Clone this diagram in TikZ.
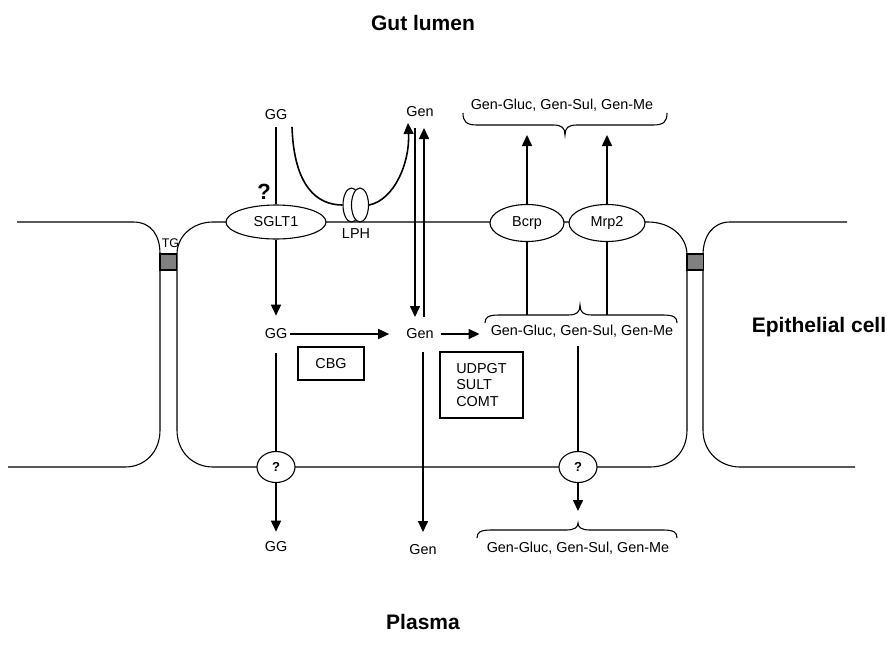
\documentclass[tikz,border=0pt]{standalone}
\usepackage{fontspec}
\setmainfont{Liberation Sans}
\usetikzlibrary{arrows.meta,shapes.geometric}

\begin{document}
\begin{tikzpicture}[x=1pt,y=-1pt,font=\fontsize{14.4}{16.5}\selectfont,
    memb/.style={line width=1.1pt},
    link/.style={line width=1.6pt},
    arr/.style={link,-{Triangle[length=11pt,width=10pt]}},
    pump/.style={draw,ellipse,memb,fill=white,inner sep=0pt},
    qmark/.style={pump,minimum width=38pt,minimum height=31pt,font=\bfseries\fontsize{13}{15}\selectfont},
    enzbox/.style={draw,memb,inner sep=0pt},
    lbl/.style={inner sep=0pt},
    heading/.style={font=\bfseries\fontsize{21}{24}\selectfont}]%
  \useasboundingbox (0,0) rectangle (891,656);%
  % cells
  \draw[memb] (17,222) -- (133,222) .. controls (152,222) and (160,236) .. (160,254) -- (160,430) .. controls (160,452) and (145,467) .. (125,467) -- (8,467);%
  \draw[memb] (648,222) -- (213,222) .. controls (193,222) and (177,236) .. (177,254) -- (177,430) .. controls (177,452) and (193,467) .. (213,467) -- (650,467) .. controls (672,467) and (687,452) .. (687,430) -- (687,255) .. controls (687,236) and (670,222) .. (648,222);%
  \draw[memb] (847,222) -- (730,222) .. controls (713,222) and (703,236) .. (703,255) -- (703,430) .. controls (703,452) and (720,467) .. (740,467) -- (855,467);%
  \foreach \x in {160,687}{%
    \draw[memb,fill=black!50] (\x,254) rectangle ++(16.5,16);
  }
  \node[lbl,font=\fontsize{12.5}{14}\selectfont] (tg) at (170.5,243) {TG};%
  % transporters
  \node[pump,minimum width=100pt,minimum height=34pt] (sglt) at (276,222) {SGLT1};%
  \node[pump,minimum width=74pt,minimum height=37pt] (bcrp) at (527,223) {Bcrp};%
  \node[pump,minimum width=76pt,minimum height=37pt] (mrp) at (607,223) {Mrp2};%
  \node[pump,minimum width=17pt,minimum height=34pt] (lph1) at (351.5,205) {};%
  \node[pump,minimum width=17pt,minimum height=34pt] (lph2) at (360,205) {};%
  \node[lbl] (lphlbl) at (356,234) {LPH};%
  \node[qmark] (q1) at (276,467) {?};%
  \node[qmark] (q2) at (578,467) {?};%
  \node[lbl,font=\bfseries\fontsize{22}{24}\selectfont] (sgltq) at (264,192) {?};%
  % metabolites
  \node[lbl] (ggtop) at (276,115) {GG};%
  \node[lbl] (gentop) at (420,112) {Gen};%
  \node[lbl] (conjtop) at (562,105) {Gen-Gluc, Gen-Sul, Gen-Me};%
  \node[lbl] (ggmid) at (276,334) {GG};%
  \node[lbl] (genmid) at (420,334) {Gen};%
  \node[lbl] (conjmid) at (582,331) {Gen-Gluc, Gen-Sul, Gen-Me};%
  \node[lbl] (ggbot) at (276,547) {GG};%
  \node[lbl] (genbot) at (423,550) {Gen};%
  \node[lbl] (conjbot) at (578,548) {Gen-Gluc, Gen-Sul, Gen-Me};%
  \node[enzbox,minimum width=66pt,minimum height=33pt] (cbg) at (331,363.5) {CBG};%
  \node[enzbox,minimum width=83pt,minimum height=66pt,align=left] (udpgt) at (481.5,385) {UDPGT\\SULT\\COMT};%
  \node[heading] (lumen) at (423,23) {Gut lumen};%
  \node[heading] (plasma) at (423,622) {Plasma};%
  \node[heading] (cell) at (819,327) {Epithelial cell};%
  % braces
  \coordinate (toptip) at (565,135);%
  \coordinate (midflat) at (580,315);%
  \coordinate (bottip) at (578,523);%
  \foreach \l/\m/\r/\e/\a/\b/\s in {463/565/667/113/12/22/1,485/580/677/323/8/18/-1,477/578/677/538/8/15/-1}{%
    \draw[memb] (\l,\e) .. controls (\l,{\e+\s*\a*0.7}) and ({\l+3},{\e+\s*\a}) .. ({\l+14},{\e+\s*\a}) -- ({\m-12},{\e+\s*\a}) .. controls ({\m-3},{\e+\s*\a}) and (\m,{\e+\s*\a+\s*3}) .. (\m,{\e+\s*\b}) .. controls (\m,{\e+\s*\a+\s*3}) and ({\m+3},{\e+\s*\a}) .. ({\m+12},{\e+\s*\a}) -- ({\r-14},{\e+\s*\a}) .. controls ({\r-3},{\e+\s*\a}) and (\r,{\e+\s*\a*0.7}) .. (\r,\e);
  }
  % transport
  \draw[link,shorten <=7pt] (ggtop) -- (sglt);%
  \draw[arr,shorten >=13pt] (sglt) -- (ggmid);%
  \draw[link,shorten <=14pt] (ggmid) -- (q1);%
  \draw[arr,shorten >=10pt] (q1) -- (ggbot);%
  \draw[arr,shorten <=3pt,shorten >=17pt] (ggmid) -- (genmid);%
  \draw[arr,shorten <=7pt,shorten >=11pt] (genmid.east) -- (genmid.east -| conjmid.west);%
  \draw[link] ([xshift=16pt,yshift=-12pt]ggtop.center) .. controls +(2,60) and +(-25,0) .. (lph1.west);%
  \draw[arr] (lph2.east) .. controls +(25,-5) and +(2,40) .. ([xshift=-12pt,yshift=-11pt]gentop.center);%
  \draw[arr] ([xshift=-5pt,yshift=-16pt]gentop.center) -- ([xshift=-5pt,yshift=17pt]genmid.center);%
  \draw[arr] ([xshift=4pt,yshift=17pt]genmid.center) -- ([xshift=4pt,yshift=-16pt]gentop.center);%
  \draw[arr] ([xshift=3pt,yshift=-18pt]genmid.center) -- ([yshift=18pt]genbot.center);%
  \foreach \p in {bcrp,mrp}{%
    \draw[arr] (\p) -- (\p |- toptip);
    \draw[link] (\p) -- (\p |- midflat);
  }
  \draw[link,shorten <=9pt] (conjmid.south -| q2) -- (q2);%
  \draw[arr,shorten >=12pt] (q2) -- (bottip);%
\end{tikzpicture}
\end{document}
